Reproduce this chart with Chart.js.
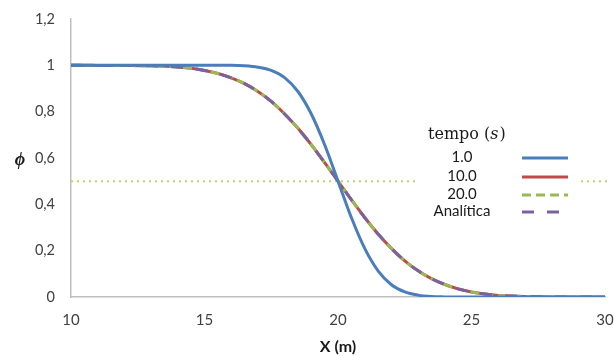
<!DOCTYPE html>
<html>
<head>
<meta charset="utf-8">
<script src="https://cdn.jsdelivr.net/npm/chart.js@4/dist/chart.umd.min.js"></script>
<style>
html,body{margin:0;padding:0;background:#fff;}
#wrap{width:614px;height:356px;position:relative;}
</style>
</head>
<body>
<div id="wrap"><canvas id="c" width="614" height="356"></canvas></div>
<script>
const xValues = [10,10.5,11,11.5,12,12.5,13,13.5,14,14.5,15,15.5,16,16.5,17,17.5,18,18.5,19,19.5,20,20.5,21,21.5,22,22.5,23,23.5,24,24.5,25,25.5,26,26.5,27,27.5,28,28.5,29,29.5,30];
const seriesT1 = [1,1,1,1,1,1,1,1,1,1,1,1,1,0.998,0.992,0.978,0.947,0.887,0.79,0.657,0.5,0.343,0.21,0.113,0.053,0.022,0.008,0.002,0.0005,0,0,0,0,0,0,0,0,0,0,0,0];
const seriesT10 = [1,0.9999,0.9998,0.9997,0.9995,0.9986,0.9977,0.996,0.993,0.987,0.978,0.965,0.946,0.921,0.887,0.844,0.79,0.728,0.657,0.58,0.5,0.42,0.343,0.272,0.21,0.156,0.113,0.079,0.054,0.035,0.022,0.013,0.007,0.004,0.0023,0.0014,0.0005,0.0002,0.0001,0,0];
const seriesT20 = [1,0.9999,0.9998,0.9997,0.9995,0.9986,0.9977,0.996,0.993,0.987,0.978,0.965,0.946,0.921,0.887,0.844,0.79,0.728,0.657,0.58,0.5,0.42,0.343,0.272,0.21,0.156,0.113,0.079,0.054,0.035,0.022,0.013,0.007,0.004,0.0023,0.0014,0.0005,0.0002,0.0001,0,0];
const seriesAnalitica = [1,0.9999,0.9998,0.9997,0.9995,0.9986,0.9977,0.996,0.993,0.987,0.978,0.965,0.946,0.921,0.887,0.844,0.79,0.728,0.657,0.58,0.5,0.42,0.343,0.272,0.21,0.156,0.113,0.079,0.054,0.035,0.022,0.013,0.007,0.004,0.0023,0.0014,0.0005,0.0002,0.0001,0,0];
const refLineX = [10,30.1];
const refLineY = [0.5,0.5];
const seriesLabels = ['1.0','10.0','20.0','Analítica'];
const legendTitle = 'tempo';
const legendTitleVar = 's';
const xTitle = 'X (m)';
const yTitle = 'ϕ';

const toPts = (xs, ys) => xs.map((x,i)=>({x:x,y:ys[i]}));

const colors = ['#4a7ebb','#be4b48','#98b954','#7d60a0'];
const dashes = [[],[],[9,5],[12,13]];

const legendPlugin = {
  id:'customLegend',
  afterDraw(chart){
    const ctx = chart.ctx;
    ctx.save();
    ctx.fillStyle = '#fff';
    ctx.fillRect(418,120,162,104);
    // title
    ctx.fillStyle = '#1a1a1a';
    ctx.textBaseline = 'middle';
    ctx.textAlign = 'left';
    ctx.font = '16px "DejaVu Serif"';
    const t1 = legendTitle + ' (';
    ctx.fillText(t1, 428, 135);
    let w = ctx.measureText(t1).width;
    ctx.font = 'italic 16px "DejaVu Serif"';
    ctx.fillText(legendTitleVar, 428+w, 135);
    w += ctx.measureText(legendTitleVar).width + 1;
    ctx.font = '16px "DejaVu Serif"';
    ctx.fillText(')', 428+w, 135);
    const ys = [157,176,194,211];
    ctx.font = '15px Lato';
    ctx.textAlign = 'center';
    for(let i=0;i<4;i++){
      ctx.fillStyle = '#1a1a1a';
      ctx.fillText(seriesLabels[i], 462, ys[i]);
      ctx.strokeStyle = colors[i];
      ctx.lineWidth = 3;
      ctx.setLineDash(dashes[i]);
      ctx.beginPath();
      ctx.moveTo(522, ys[i]+1);
      ctx.lineTo(568, ys[i]+1);
      ctx.stroke();
    }
    ctx.setLineDash([]);
    // y title
    ctx.font = 'bold italic 18px "Liberation Serif"';
    ctx.textAlign = 'center';
    ctx.fillStyle = '#1a1a1a';
    ctx.fillText(yTitle, 20, 160);
    ctx.restore();
  }
};

const ds = (label, ys, i, order) => ({
  label: label,
  data: toPts(xValues, ys),
  borderColor: colors[i],
  borderWidth: 3,
  borderDash: dashes[i],
  pointRadius: 0,
  fill: false,
  cubicInterpolationMode: 'monotone',
  order: order
});

new Chart(document.getElementById('c'), {
  type: 'line',
  data: {
    datasets: [
      ds(seriesLabels[0], seriesT1, 0, 0),
      ds(seriesLabels[1], seriesT10, 1, 3),
      ds(seriesLabels[2], seriesT20, 2, 2),
      ds(seriesLabels[3], seriesAnalitica, 3, 1),
      {
        label: 'ref',
        data: toPts(refLineX, refLineY),
        borderColor: '#c3d46e',
        borderWidth: 2,
        borderDash: [2,4],
        pointRadius: 0,
        clip: false,
        order: 5
      }
    ]
  },
  plugins: [legendPlugin],
  options: {
    responsive: false,
    animation: false,
    layout: { padding: { top: 19, right: 9, left: 0, bottom: 0 } },
    plugins: { legend: { display: false }, tooltip: { enabled: false } },
    scales: {
      x: {
        type: 'linear',
        min: 10, max: 30,
        grid: { display: false, drawTicks: false },
        border: { display: true, color: '#bfbfbf', width: 1.5 },
        ticks: { stepSize: 5, padding: 14, color: '#404040', font: { family: 'Lato', size: 15 }, maxRotation: 0 },
        title: { display: true, text: xTitle, color: '#1a1a1a', font: { family: 'Lato', size: 16, weight: 'bold' }, padding: { top: 0, bottom: 0 } },
        afterFit(s){ s.height = 59; s.paddingLeft = 0; s.paddingRight = 0; }
      },
      y: {
        min: 0, max: 1.2,
        grid: { display: false, drawTicks: false },
        border: { display: true, color: '#bfbfbf', width: 1.5 },
        ticks: { stepSize: 0.2, padding: 16, color: '#404040', font: { family: 'Lato', size: 14.5 },
          callback: v => (Math.round(v*10)/10).toString().replace('.', ',') },
        afterFit(s){ s.width = 71; s.paddingTop = 0; s.paddingBottom = 0; }
      }
    }
  }
});
</script>
</body>
</html>
